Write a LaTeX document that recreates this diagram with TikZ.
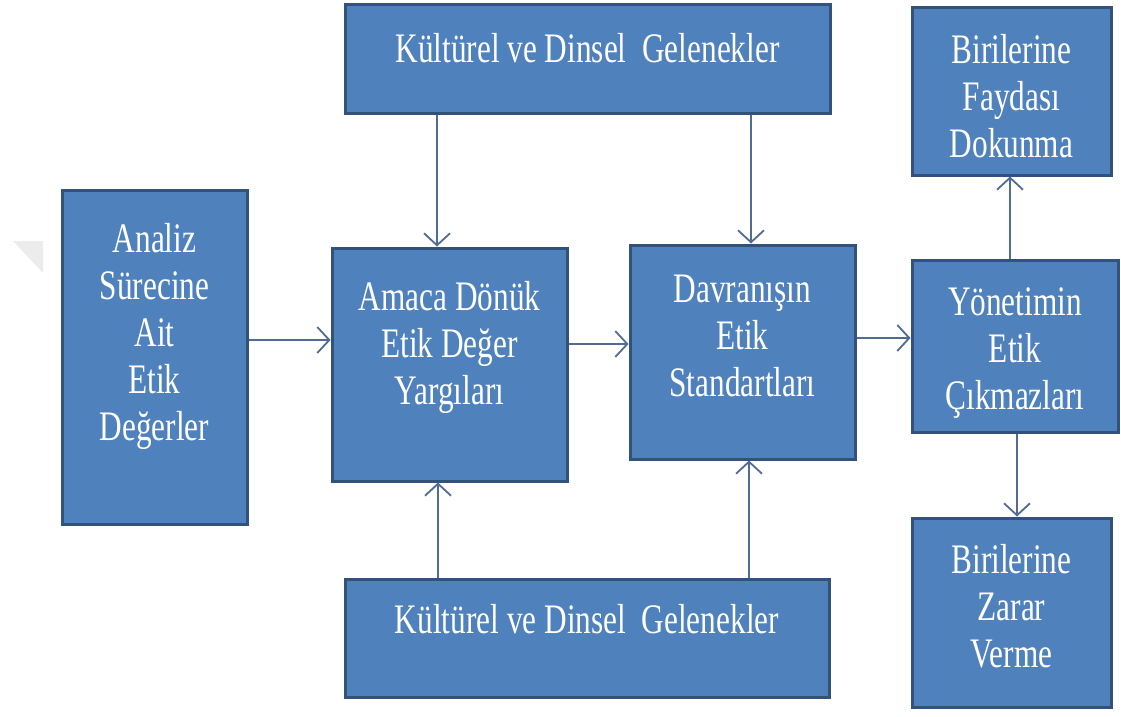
\documentclass[tikz,border=0pt]{standalone}
\usepackage{fontspec}
\setmainfont{Liberation Serif}[FakeStretch=0.745]
\usetikzlibrary{arrows.meta}
\definecolor{boxfill}{RGB}{79,129,189}
\definecolor{boxline}{RGB}{50,82,124}
\definecolor{arrowline}{RGB}{80,108,146}
\definecolor{markgray}{RGB}{236,236,236}
\begin{document}
\begin{tikzpicture}[x=1pt,y=-1pt,
  box/.style={draw=boxline, fill=boxfill, line width=3pt, inner sep=0pt},
  boxtext/.style={text=white, inner sep=0pt, align=center,
    font=\fontsize{42}{47}\selectfont},
  arr/.style={draw=arrowline, line width=1.8pt,
    -{Straight Barb[length=12pt,width=26pt]}}]
\useasboundingbox (0,0) rectangle (1121,716);

% faint corner mark
\fill[markgray] (13,241) -- (43,241) -- (43,273) -- cycle;

% boxes
\node[box, minimum width=185pt, minimum height=334pt] (ana) at (154.5,357) {};
\node[box, minimum width=235pt, minimum height=233pt] (ama) at (449.5,364.5) {};
\node[box, minimum width=225pt, minimum height=214pt] (dav) at (742.5,352) {};
\node[box, minimum width=206pt, minimum height=172pt] (yon) at (1015,346) {};
\node[box, minimum width=199pt, minimum height=168pt] (fay) at (1011.5,91) {};
\node[box, minimum width=199pt, minimum height=189pt] (zar) at (1011.5,612.5) {};
\node[box, minimum width=485pt, minimum height=109pt] (ktop) at (587.5,58.5) {};
\node[box, minimum width=484pt, minimum height=118pt] (kbot) at (587,638) {};

% box texts
\node[boxtext] (anaT) at (154.5,336.6) {\strut Analiz\\\strut Sürecine\\\strut Ait\\\strut Etik\\\strut Değerler};
\node[boxtext] (amaT) at (449.5,347.6) {\strut Amaca Dönük\\\strut Etik Değer\\\strut Yargıları};
\node[boxtext] (davT) at (742.5,339.6) {\strut Davranışın\\\strut Etik\\\strut Standartları};
\node[boxtext] (yonT) at (1015,352.6) {\strut Yönetimin\\\strut Etik\\\strut Çıkmazları};
\node[boxtext] (fayT) at (1011.5,100.6) {\strut Birilerine\\\strut Faydası\\\strut Dokunma};
\node[boxtext] (zarT) at (1011.5,610.6) {\strut Birilerine\\\strut Zarar\\\strut Verme};
\node[boxtext] (ktopT) at (587.5,52.6) {\strut Kültürel ve Dinsel~ Gelenekler};
\node[boxtext] (kbotT) at (587,623.6) {\strut Kültürel ve Dinsel~ Gelenekler};

% connectors
\draw[arr] (ana.east |- 0,340) -- (ama.west |- 0,340);
\draw[arr] (ama.east |- 0,344) -- (dav.west |- 0,344);
\draw[arr] (dav.east |- 0,338) -- (yon.west |- 0,338);
\draw[arr] (ktop.south -| 437,0) -- (ama.north -| 437,0);
\draw[arr] (ktop.south -| 751,0) -- (dav.north -| 751,0);
\draw[arr] (kbot.north -| 438,0) -- (ama.south -| 438,0);
\draw[arr] (kbot.north -| 749,0) -- (dav.south -| 749,0);
\draw[arr] (yon.north -| 1010,0) -- (fay.south -| 1010,0);
\draw[arr] (yon.south -| 1017,0) -- (zar.north -| 1017,0);
\end{tikzpicture}
\end{document}
